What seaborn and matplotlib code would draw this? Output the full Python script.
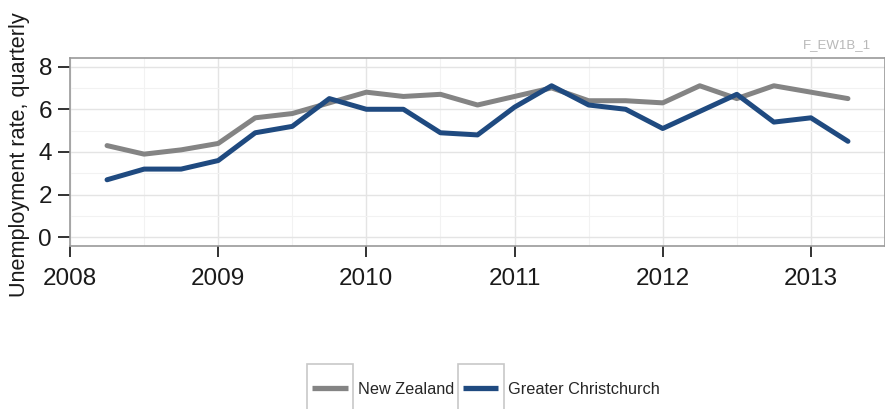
import matplotlib
matplotlib.use("Agg")
import matplotlib.pyplot as plt
from matplotlib.patches import Rectangle
from matplotlib.ticker import MultipleLocator
import seaborn as sns
import pandas as pd

quarters = [2008.25, 2008.5, 2008.75, 2009.0, 2009.25, 2009.5, 2009.75,
            2010.0, 2010.25, 2010.5, 2010.75, 2011.0, 2011.25, 2011.5,
            2011.75, 2012.0, 2012.25, 2012.5, 2012.75, 2013.0, 2013.25]
new_zealand = [4.3, 3.9, 4.1, 4.4, 5.6, 5.8, 6.3, 6.8, 6.6, 6.7, 6.2,
               6.6, 7.0, 6.4, 6.4, 6.3, 7.1, 6.5, 7.1, 6.8, 6.5]
christchurch = [2.7, 3.2, 3.2, 3.6, 4.9, 5.2, 6.5, 6.0, 6.0, 4.9, 4.8,
                6.1, 7.1, 6.2, 6.0, 5.1, 5.9, 6.7, 5.4, 5.6, 4.5]
series_names = ["New Zealand", "Greater Christchurch"]
series_colors = ["#848484", "#1F4A80"]
year_ticks = [2008, 2009, 2010, 2011, 2012, 2013]
y_ticks = [0, 2, 4, 6, 8]

df = pd.DataFrame({
    "quarter": quarters * 2,
    "rate": new_zealand + christchurch,
    "region": [series_names[0]] * len(quarters) + [series_names[1]] * len(quarters),
})

sns.set_style("white")
plt.rcParams["font.family"] = ["Liberation Sans", "DejaVu Sans"]

W, H = 885, 409
fig = plt.figure(figsize=(W / 100, H / 100), dpi=100)
ax = fig.add_axes([70 / W, 1 - 246 / H, 1 - 70 / W, (246 - 58) / H])

sns.lineplot(data=df, x="quarter", y="rate", hue="region",
             palette=dict(zip(series_names, series_colors)),
             linewidth=3.6, ax=ax, legend=False, zorder=3)

ax.set_xlim(2008.0, 2013.5)
ax.set_ylim(-0.4, 8.4)
ax.set_xticks(year_ticks)
ax.set_xticklabels([str(y) for y in year_ticks])
ax.set_yticks(y_ticks)
ax.xaxis.set_minor_locator(MultipleLocator(0.5))
ax.yaxis.set_minor_locator(MultipleLocator(1))
ax.grid(True, which="major", color="#e4e4e4", linewidth=1.0)
ax.grid(True, which="minor", color="#f2f2f2", linewidth=0.8)
ax.tick_params(axis="both", which="major", direction="out", length=9,
               width=1.3, color="#222222", labelsize=17.5, pad=4,
               left=True, bottom=True, labelcolor="#1a1a1a")
ax.tick_params(axis="x", which="major", length=8, pad=8)
ax.tick_params(axis="both", which="minor", length=0)
for s in ax.spines.values():
    s.set_color("#9a9a9a")
    s.set_linewidth(1.2)
ax.set_xlabel("")
ax.set_ylabel("Unemployment rate, quarterly", fontsize=15.6, color="#1a1a1a")
ax.yaxis.set_label_coords((30 - 70) / 815, 0.5 - 3 / 188)

fig.text(803 / W, 1 - 45 / H, "F_EW1B_1", fontsize=9.5, color="#b8b8b8",
         ha="left", va="center")

handles = [plt.Line2D([], [], color=c, linewidth=3.8, solid_capstyle="butt")
           for c in series_colors]
leg = fig.legend(handles, series_names, loc="center", bbox_to_anchor=(486 / W, 1 - 389 / H),
                 ncol=2, frameon=False, fontsize=11.7, handlelength=2.2,
                 columnspacing=0.55, handletextpad=0.6, borderpad=0, borderaxespad=0)
fig.canvas.draw()
for h in leg.legend_handles:
    bb = h.get_window_extent()
    cx = (bb.x0 + bb.x1) / 2
    cy = (bb.y0 + bb.y1) / 2
    w, hgt = 46, 48
    fig.patches.append(Rectangle(((cx - w / 2) / W, (cy - hgt / 2) / H),
                                 w / W, hgt / H, transform=fig.transFigure,
                                 fill=False, edgecolor="#c8c8c8", linewidth=1.2))

fig.savefig("out.png", dpi=100)
